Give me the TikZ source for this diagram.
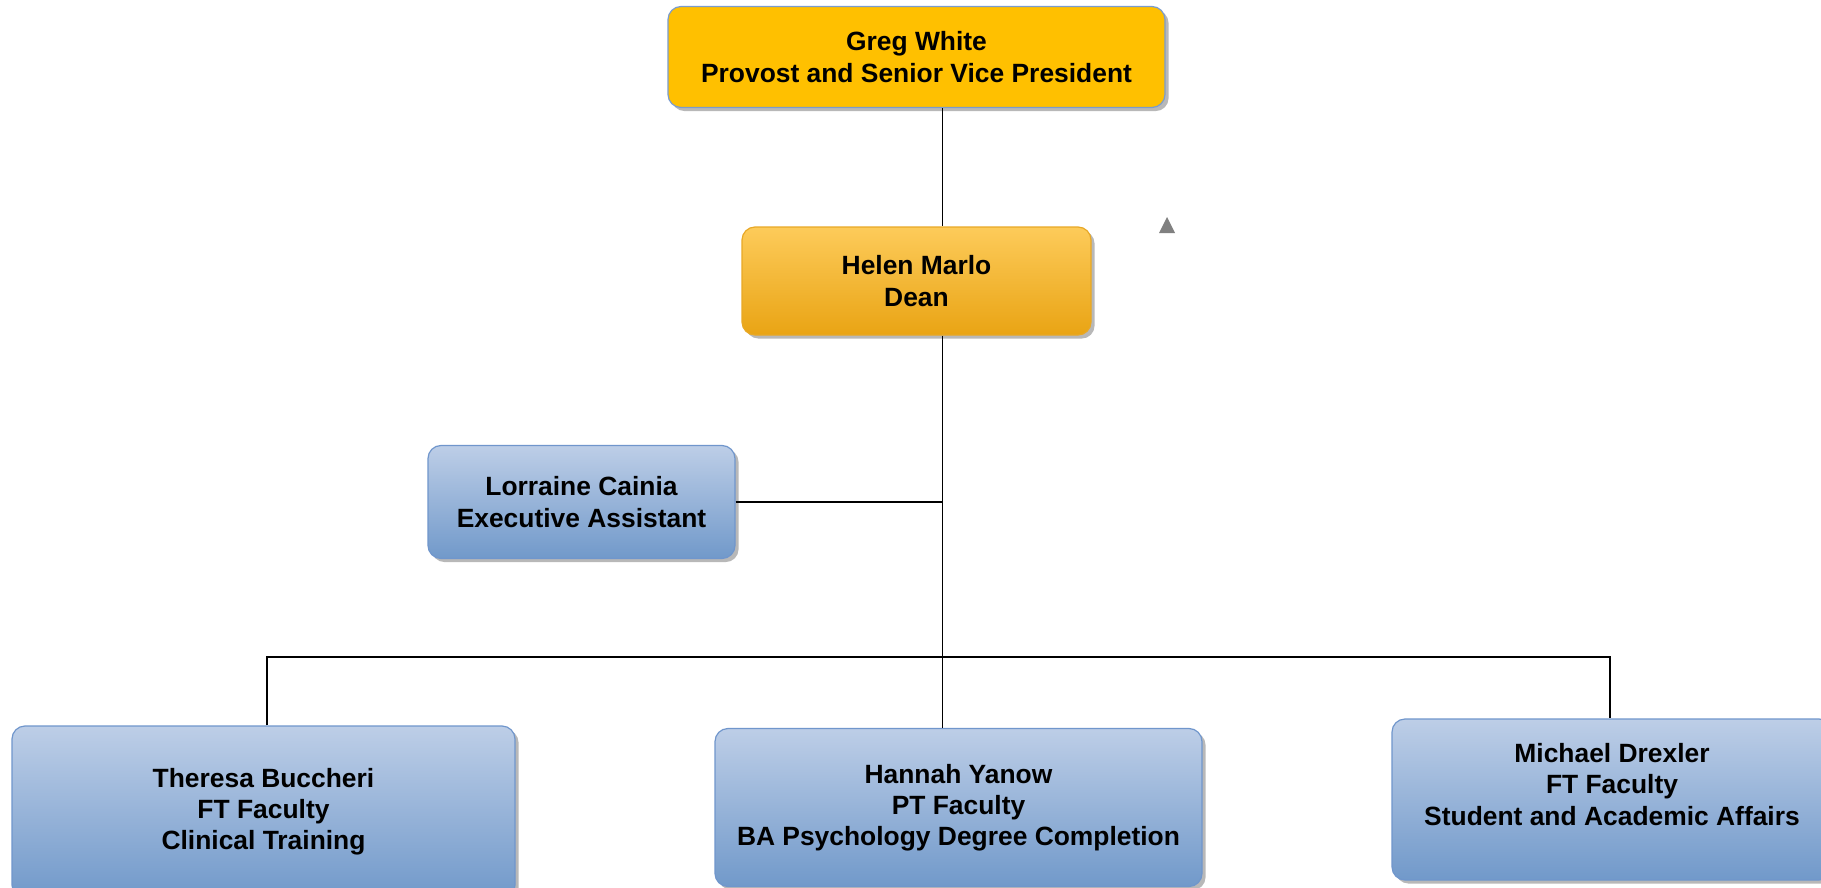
\documentclass[tikz,border=0pt]{standalone}
\usepackage{fontspec}
\setmainfont{Liberation Sans}
\usetikzlibrary{shadows,calc}
\definecolor{gold}{HTML}{FFC000}
\definecolor{goldborder}{HTML}{7A9CCF}
\definecolor{deantop}{HTML}{FDCB5A}
\definecolor{deanbot}{HTML}{E9A414}
\definecolor{deanborder}{HTML}{E8A826}
\definecolor{bluetop}{HTML}{BDCEE7}
\definecolor{bluebot}{HTML}{7199CA}
\definecolor{blueborder}{HTML}{7096CC}
\definecolor{tri}{HTML}{808080}
\tikzset{
  orgbox/.style={rounded corners=6.5pt, line width=0.6pt, align=center,
    font=\fontsize{13.2}{15.6}\selectfont\bfseries, inner sep=0pt,
    drop shadow={shadow xshift=1.8pt, shadow yshift=-1.8pt, fill=black, opacity=0.28}},
  provostbox/.style={orgbox, draw=goldborder, fill=gold},
  deanbox/.style={orgbox, draw=deanborder, top color=deantop, bottom color=deanbot},
  staffbox/.style={orgbox, draw=blueborder, top color=bluetop, bottom color=bluebot},
  orgtext/.style={align=center, font=\fontsize{13.2}{15.6}\selectfont\bfseries, inner sep=0pt},
  link/.style={line width=0.75pt, draw=black}
}
\begin{document}
\begin{tikzpicture}[x=0.5pt,y=-0.5pt]
\useasboundingbox (0,0) rectangle (1821,888);
\clip (0,0) rectangle (1821,888);
\fill[white] (0,0) rectangle (1821,888);

\coordinate (spine) at (942.5,0);
\coordinate (busL) at (267,657);
\coordinate (busR) at (1610,657);

\node[provostbox, minimum width=248.5pt, minimum height=50.5pt] (greg) at (916.5,57)
  {Greg White\\Provost and Senior Vice President};
\node[deanbox, minimum width=174.5pt, minimum height=54pt] (helen) at (916.5,281)
  {Helen Marlo\\Dean};
\node[staffbox, minimum width=153.5pt, minimum height=56.5pt] (lorraine) at (581.5,502)
  {Lorraine Cainia\\Executive Assistant};
\node[staffbox, minimum width=251.5pt, minimum height=86pt] (theresa) at (263.5,812)
  {Theresa Buccheri\\FT Faculty\\Clinical Training};
\node[staffbox, minimum width=243.5pt, minimum height=79pt] (hannah) at (958.5,807.5)
  {Hannah Yanow\\PT Faculty\\BA Psychology Degree Completion};
\node[staffbox, minimum width=220pt, minimum height=80.5pt] (michael) at (1612,799.5) {};
\node[orgtext] (michaeltext) at (1612,784.5)
  {Michael Drexler\\FT Faculty\\Student and Academic Affairs};

\fill[tri] (1159,233) -- (1175,233) -- (1167,217) -- cycle;

\draw[link] (greg.south -| spine) -- (helen.north -| spine);
\draw[link] (helen.south -| spine) -- (hannah.north -| spine);
\draw[link] (lorraine.east) -- (lorraine.east -| spine);
\draw[link] (theresa.north -| busL) -- (busL) -- (busR) -- (michael.north -| busR);
\end{tikzpicture}
\end{document}
